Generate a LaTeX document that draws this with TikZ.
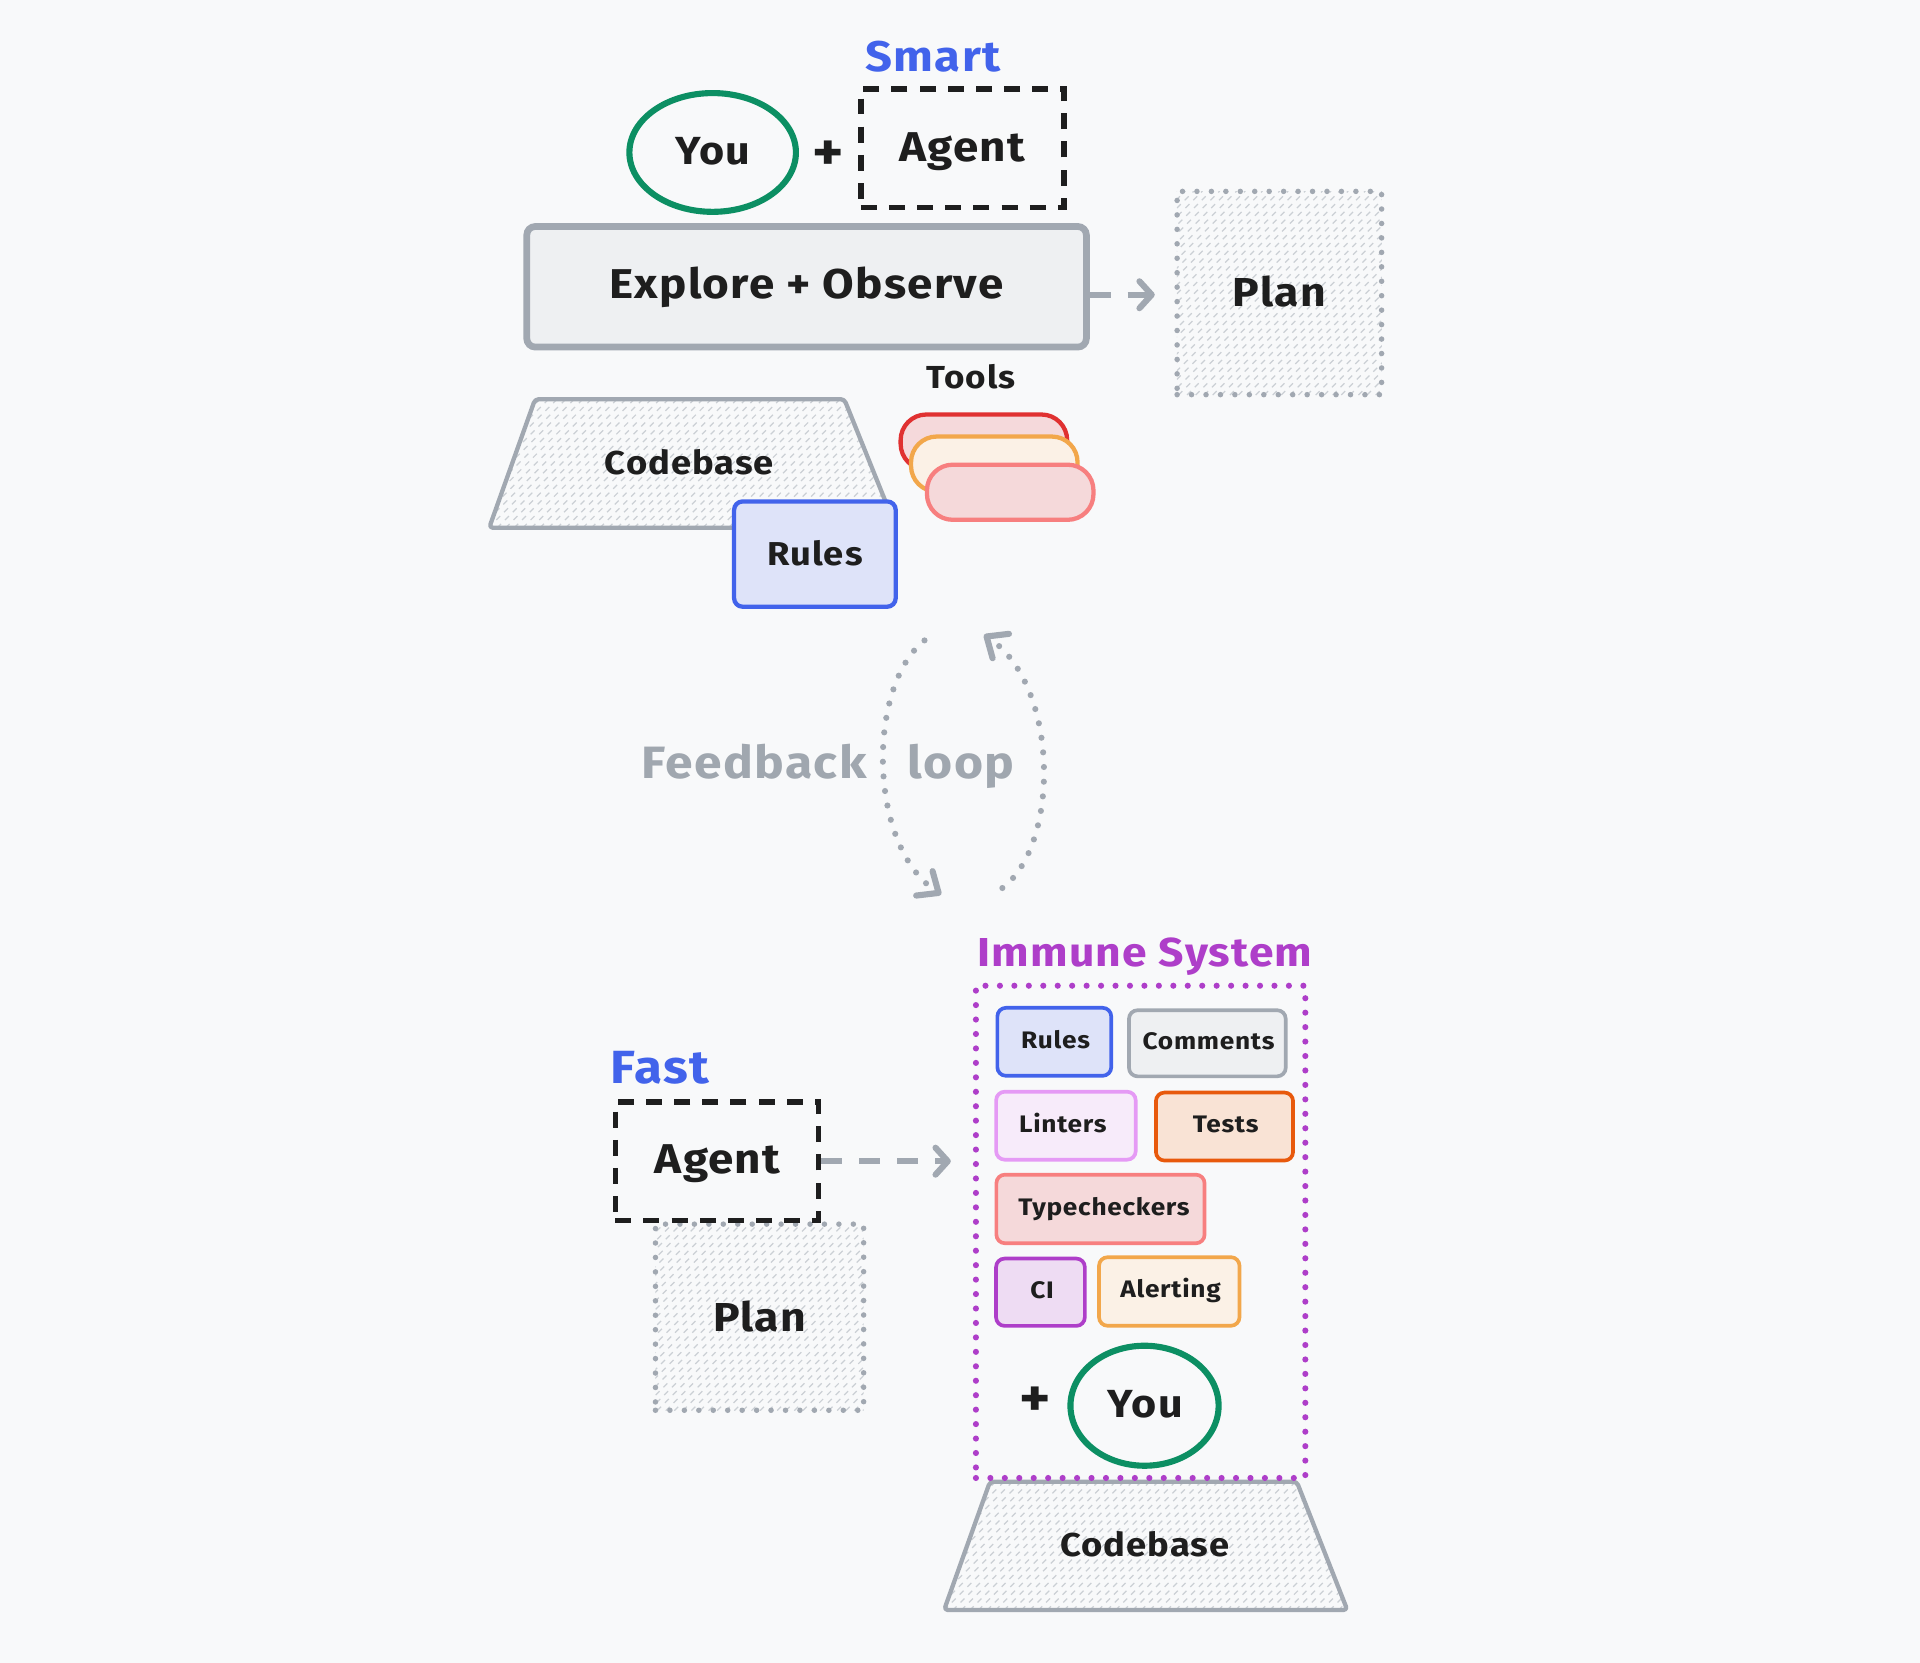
\documentclass[tikz,border=0pt]{standalone}
\usepackage{fontspec}
\setmainfont{Fira Sans}[FakeStretch=1.1, LetterSpace=3]
\usetikzlibrary{arrows.meta,shapes.geometric}
\definecolor{bgc}{HTML}{F8F9FA}
\definecolor{ink}{HTML}{1E1E1E}
\definecolor{xblue}{HTML}{4263EB}
\definecolor{xbluefill}{HTML}{DEE3F9}
\definecolor{xgreen}{HTML}{0C8F63}
\definecolor{xgray}{HTML}{A1A8B1}
\definecolor{xgrayfill}{HTML}{EEF0F2}
\definecolor{hatchc}{HTML}{CBD0D5}
\definecolor{xpurple}{HTML}{AE3EC9}
\definecolor{cifill}{HTML}{EEDCF3}
\definecolor{xred}{HTML}{E03131}
\definecolor{redfill}{HTML}{F5D9DB}
\definecolor{xpink}{HTML}{F77F7F}
\definecolor{pinkfill}{HTML}{F5D9DA}
\definecolor{xorange}{HTML}{F2A74B}
\definecolor{orangefill}{HTML}{FBF1E6}
\definecolor{xdorange}{HTML}{E8590C}
\definecolor{dorangefill}{HTML}{F9E3D5}
\definecolor{xviolet}{HTML}{E59AF5}
\definecolor{violetfill}{HTML}{F7EBFA}
\definecolor{fbgray}{HTML}{A0A7AF}
\newcommand\fsz[1]{\fontsize{#1}{#1}\selectfont\bfseries}
\newcommand\hatchlines[4]{\foreach \k in {0,7,...,700}{\draw[hatchline] ({#1-(#4-#2)+\k},#4) -- ++({#4-#2},{-(#4-#2)});}}
\begin{document}
\begin{tikzpicture}[x=1pt,y=-1pt,
  lbl/.style={inner sep=0pt, text=ink, anchor=base},
  box/.style={draw, rounded corners=7pt, inner sep=0pt},
  sbox/.style={box, line width=3pt},
  pill/.style={draw, line width=3.5pt, rounded corners=21pt, minimum width=136pt, minimum height=45pt, inner sep=0pt},
  dashbox/.style={draw=ink, line width=4.5pt, dash pattern=on 13pt off 10pt, minimum width=166pt, minimum height=97pt, inner sep=0pt},
  dotbox/.style={draw=xgray, line width=4.5pt, line cap=round, dash pattern=on 0pt off 11.8pt, inner sep=0pt},
  hatchline/.style={draw=hatchc, line width=1pt, dash pattern=on 4.5pt off 4.5pt},
  flow/.style={draw=xgray, line width=5pt, dash pattern=on 17pt off 14pt, -{Straight Barb[length=10pt,width=22pt,round]}},
  fbarc/.style={draw=xgray, line width=5pt, line cap=round, dash pattern=on 0pt off 12pt, -{Straight Barb[length=14pt,width=24pt,round]}},
  trap/.style={draw=xgray, line width=3.5pt, rounded corners=3pt, line join=round}
]
\fill[bgc] (0,0) rectangle (1568,1358);
\useasboundingbox (0,0) rectangle (1568,1358);

% ---------- top ----------
\node[lbl, font=\fsz{35}, text=xblue] (smart) at (762,58.6) {Smart};
\node[ellipse, draw=xgreen, line width=5pt, minimum width=136pt, minimum height=97pt, inner sep=0pt] (you1) at (582,124.5) {};
\node[lbl, font=\fsz{32}] (you1t) at (582,134.5) {You};
\node[font=\fsz{44}, text=ink, inner sep=0pt] (plus1) at (676,127) {+};
\node[dashbox] (agent1) at (786,121) {};
\node[lbl, font=\fsz{34}] (agent1t) at (786,132) {Agent};

\node[box, draw=xgray, fill=xgrayfill, line width=5.5pt, minimum width=457pt, minimum height=98.5pt] (explore) at (658.7,234.2) {};
\node[lbl, font=\fsz{34}] (exploret) at (658.7,244) {Explore + Observe};

\begin{scope}
\clip (961,156) rectangle (1128.6,322.6);
\hatchlines{961}{156}{1128.6}{322.6}
\end{scope}
\node[dotbox, minimum width=167pt, minimum height=166pt] (plan1) at (1044.8,239.3) {};
\node[lbl, font=\fsz{33}] (plan1t) at (1044.8,250) {Plan};
\coordinate (ea) at ([yshift=-6.5pt]explore.east);
\draw[flow, shorten >=16pt] (ea) -- (ea -| plan1.west);

\node[lbl, font=\fsz{26}] (tools) at (793,317.6) {Tools};
\node[pill, draw=xred, fill=redfill] (toolA) at (803.5,361) {};
\node[pill, draw=xorange, fill=orangefill] (toolB) at (812,379) {};
\node[pill, draw=xpink, fill=pinkfill] (toolC) at (825,402) {};

\begin{scope}
\clip (437,326) -- (689.5,326) -- (731.8,431) -- (399.5,431) -- cycle;
\hatchlines{399}{326}{732}{431}
\end{scope}
\draw[trap] (437,326) -- (689.5,326) -- (731.8,431) -- (399.5,431) -- cycle;
\node[lbl, font=\fsz{27}] (codebase1) at (563,387.6) {Codebase};
\node[box, draw=xblue, fill=xbluefill, line width=3.5pt, minimum width=132pt, minimum height=86pt] (rules1) at (665.5,452.5) {};
\node[lbl, font=\fsz{27}] (rules1t) at (665.5,461.5) {Rules};

% ---------- feedback loop ----------
\node[lbl, font=\fsz{37}, text=fbgray] (feedback) at (616,636) {Feedback};
\node[lbl, font=\fsz{37}, text=fbgray] (loop) at (785,636) {loop};
\coordinate (fbA) at (755,523);
\coordinate (fbB) at (768.6,730.6);
\coordinate (fbC) at (818.6,725.2);
\coordinate (fbD) at (803.6,518.4);
\draw[fbarc] (fbA) .. controls (708.2,560) and (708.2,690) .. (fbB);
\draw[fbarc] (fbC) .. controls (865.6,690) and (865.6,560) .. (fbD);

% ---------- bottom ----------
\node[lbl, font=\fsz{38}, text=xblue] (fast) at (539,885) {Fast};
\begin{scope}
\clip (535.3,999.4) rectangle (705.3,1152);
\hatchlines{535.3}{999.4}{705.3}{1152}
\end{scope}
\node[dotbox, minimum width=170pt, minimum height=152pt] (plan2) at (620.3,1075.7) {};
\node[lbl, font=\fsz{33}] (plan2t) at (620.3,1087) {Plan};
\node[dashbox] (agent2) at (585.5,948.3) {};
\node[lbl, font=\fsz{34}] (agent2t) at (586,958.5) {Agent};

\begin{scope}
\clip (808.5,1210) -- (1059,1210) -- (1100.3,1314.8) -- (771,1314.8) -- cycle;
\hatchlines{771}{1210}{1101}{1315}
\end{scope}
\draw[trap] (808.5,1210) -- (1059,1210) -- (1100.3,1314.8) -- (771,1314.8) -- cycle;
\node[lbl, font=\fsz{27}] (codebase2) at (935,1271.3) {Codebase};

\node[lbl, font=\fsz{33}, text=xpurple] (immunet) at (935,789) {Immune System};
\node[draw=xpurple, line width=5pt, line cap=round, dash pattern=on 0pt off 11.8pt, minimum width=269pt, minimum height=402pt, inner sep=0pt] (immune) at (931.5,1006) {};
\draw[flow, shorten >=18pt] (agent2.east) -- (agent2.east -| immune.west);

\node[sbox, draw=xblue, fill=xbluefill, minimum width=93pt, minimum height=55.5pt] (rules2) at (861,850.8) {};
\node[lbl, font=\fsz{19.5}] (rules2t) at (862,856.4) {Rules};
\node[sbox, draw=xgray, fill=xgrayfill, minimum width=128pt, minimum height=54pt] (comments) at (986,852) {};
\node[lbl, font=\fsz{19.5}] (commentst) at (987,857) {Comments};
\node[sbox, draw=xviolet, fill=violetfill, minimum width=114pt, minimum height=55.5pt] (linters) at (870.5,919.3) {};
\node[lbl, font=\fsz{19.5}] (linterst) at (868,925) {Linters};
\node[sbox, draw=xdorange, fill=dorangefill, minimum width=112pt, minimum height=55.5pt] (tests) at (1000,920) {};
\node[lbl, font=\fsz{19.5}] (testst) at (1001,925) {Tests};
\node[sbox, draw=xpink, fill=pinkfill, minimum width=170pt, minimum height=56pt] (typecheck) at (898.7,987.3) {};
\node[lbl, font=\fsz{19.5}] (typecheckt) at (901.6,992.3) {Typecheckers};
\node[sbox, draw=xpurple, fill=cifill, minimum width=72.5pt, minimum height=55pt] (ci) at (849.7,1055.3) {};
\node[lbl, font=\fsz{19.5}] (cit) at (851,1060.3) {CI};
\node[sbox, draw=xorange, fill=orangefill, minimum width=114.7pt, minimum height=56pt] (alerting) at (954.9,1054.7) {};
\node[lbl, font=\fsz{19.5}] (alertingt) at (956,1060) {Alerting};

\node[font=\fsz{44}, text=ink, inner sep=0pt] (plus2) at (845.3,1144.7) {+};
\node[ellipse, draw=xgreen, line width=5pt, minimum width=121pt, minimum height=98pt, inner sep=0pt] (you2) at (934.7,1148) {};
\node[lbl, font=\fsz{32}] (you2t) at (935.4,1158) {You};
\end{tikzpicture}
\end{document}
